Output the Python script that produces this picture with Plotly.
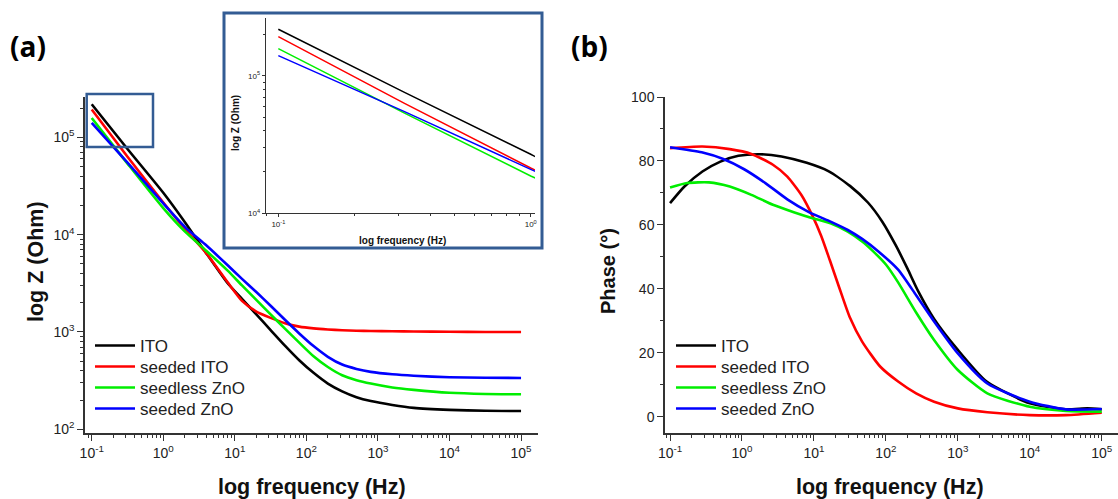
import numpy as np
import plotly.graph_objects as go

names = ["ITO", "seeded ITO", "seedless ZnO", "seeded ZnO"]
colors = ["#000000", "#FF0000", "#00EE00", "#0000FF"]

# ---- (a) impedance: log10 frequency (Hz) and log10 |Z| (Ohm)
imp_log_f = [-1, -0.5, 0, 0.3, 0.6, 0.9, 1.1, 1.3, 1.5, 1.7, 1.9, 2.1, 2.3, 2.5,
             2.7, 2.9, 3.2, 3.5, 4.0, 4.5, 5.0]
logz_ito = [5.34, 4.88, 4.43, 4.13, 3.81, 3.50, 3.34, 3.18, 3.02, 2.86, 2.71, 2.58,
            2.47, 2.39, 2.33, 2.29, 2.25, 2.22, 2.20, 2.19, 2.188]
logz_seeded_ito = [5.286, 4.80, 4.33, 4.06, 3.81, 3.51, 3.32, 3.21, 3.145, 3.09, 3.055,
                   3.037, 3.026, 3.018, 3.013, 3.01, 3.007, 3.005, 3.002, 3.0, 3.0]
logz_seedless_zno = [5.199, 4.73, 4.272, 4.033, 3.835, 3.63, 3.478, 3.33, 3.18, 3.035,
                     2.89, 2.75, 2.64, 2.555, 2.505, 2.47, 2.43, 2.405, 2.375, 2.363, 2.36]
logz_seeded_zno = [5.148, 4.74, 4.32, 4.08, 3.89, 3.685, 3.545, 3.41, 3.27, 3.125, 2.985,
                   2.855, 2.745, 2.665, 2.62, 2.59, 2.565, 2.55, 2.535, 2.53, 2.527]

# ---- (b) phase: log10 frequency (Hz) and phase (deg)
ph_log_f_ito = [-1, -0.8, -0.55, -0.3, -0.05, 0.25, 0.55, 0.9, 1.2, 1.5, 1.75, 1.95,
                2.14, 2.3, 2.45, 2.67, 3.0, 3.4, 4.0, 4.5, 4.8, 5.0]
ph_ito = [66.8, 72.0, 76.7, 79.8, 81.6, 82.1, 81.4, 79.4, 76.8, 72.2, 67.0, 61.0,
          53.5, 46.3, 39.2, 30.6, 20.9, 11.0, 4.2, 2.3, 2.6, 2.3]
ph_log_f_seeded_ito = [-1, -0.55, -0.17, 0.13, 0.43, 0.63, 0.83, 0.98, 1.10, 1.22,
                       1.35, 1.5, 1.67, 1.92, 2.17, 2.42, 2.67, 3.0, 3.41, 4.0, 4.5, 5.0]
ph_seeded_ito = [84.0, 84.5, 83.7, 82.2, 78.8, 75.1, 69.2, 62.8, 56.6, 49.0,
                 40.5, 31.0, 23.5, 15.7, 11.0, 7.3, 4.7, 2.6, 1.4, 0.5, 0.5, 1.25]
ph_log_f_seedless_zno = [-1, -0.76, -0.46, -0.17, 0.13, 0.43, 0.73, 0.98, 1.23, 1.47,
                         1.67, 1.82, 2.0, 2.17, 2.42, 2.67, 3.0, 3.41, 4.0, 4.5, 5.0]
ph_seedless_zno = [71.7, 73.1, 73.3, 72.0, 69.4, 66.3, 63.9, 62.1, 60.5, 57.9,
                   54.8, 51.8, 47.6, 42.0, 32.6, 24.0, 14.6, 7.3, 3.1, 1.8, 1.6]
ph_log_f_seeded_zno = [-1, -0.56, -0.26, 0.03, 0.33, 0.63, 0.93, 1.23, 1.47, 1.67,
                       1.90, 2.17, 2.42, 2.67, 3.0, 3.41, 4.0, 4.5, 5.0]
ph_seeded_zno = [84.3, 82.7, 80.6, 77.4, 73.0, 68.0, 64.0, 61.0, 58.4, 55.6,
                 51.6, 46.0, 38.0, 29.8, 19.8, 10.4, 4.7, 2.3, 2.4]

# tick labels
x_tickvals = [0.1, 1, 10, 100, 1000, 1e4, 1e5]
x_ticktext = ["10<sup>-1</sup>", "10<sup>0</sup>", "10<sup>1</sup>", "10<sup>2</sup>",
              "10<sup>3</sup>", "10<sup>4</sup>", "10<sup>5</sup>"]
z_tickvals = [1e2, 1e3, 1e4, 1e5]
z_ticktext = ["10<sup>2</sup>", "10<sup>3</sup>", "10<sup>4</sup>", "10<sup>5</sup>"]
inset_x_tickvals = [0.1, 1]
inset_x_ticktext = ["10<sup>-1</sup>", "10<sup>0</sup>"]
inset_y_tickvals = [1e4, 1e5]
inset_y_ticktext = ["10<sup>4</sup>", "10<sup>5</sup>"]
phase_tickvals = [0, 20, 40, 60, 80, 100]

minor_log = [k * 10.0 ** e for e in range(-2, 6) for k in range(2, 10)]

FONT = "Liberation Sans"
AX = "#333333"

imp_series = [logz_ito, logz_seeded_ito, logz_seedless_zno, logz_seeded_zno]
ph_f = [ph_log_f_ito, ph_log_f_seeded_ito, ph_log_f_seedless_zno, ph_log_f_seeded_zno]
ph_v = [ph_ito, ph_seeded_ito, ph_seedless_zno, ph_seeded_zno]

W, H = 1118, 499


def px(x):
    return x / W


def py(y):
    return 1 - y / H


legend_rows = [346, 367, 388, 409]
SMOOTH = 0.6

fig = go.Figure()
f_imp = 10.0 ** np.array(imp_log_f)
legend_layout = {}
for i, (n, c, z) in enumerate(zip(names, colors, imp_series)):
    lg = "legend" if i == 0 else f"legend{i + 1}"
    fig.add_trace(go.Scatter(x=f_imp, y=10.0 ** np.array(z), name=n, mode="lines",
                             line=dict(color=c, width=2.6, shape="spline", smoothing=SMOOTH),
                             xaxis="x", yaxis="y", legend=lg))
    legend_layout[lg] = dict(x=px(90), y=py(legend_rows[i]), xanchor="left",
                             yanchor="middle", bgcolor="rgba(0,0,0,0)",
                             font=dict(family=FONT, size=17, color="#222222"),
                             itemwidth=40)
for i, (n, c, fx, p) in enumerate(zip(names, colors, ph_f, ph_v)):
    lg = f"legend{i + 5}"
    fig.add_trace(go.Scatter(x=10.0 ** np.array(fx), y=p, name=n, mode="lines",
                             line=dict(color=c, width=2.6, shape="spline", smoothing=SMOOTH),
                             xaxis="x2", yaxis="y2", legend=lg))
    legend_layout[lg] = dict(x=px(671), y=py(legend_rows[i]), xanchor="left",
                             yanchor="middle", bgcolor="rgba(0,0,0,0)",
                             font=dict(family=FONT, size=17, color="#222222"),
                             itemwidth=40)
for n, c, z in zip(names, colors, imp_series):
    fig.add_trace(go.Scatter(x=f_imp, y=10.0 ** np.array(z), name=n, mode="lines",
                             line=dict(color=c, width=1.5), showlegend=False,
                             xaxis="x3", yaxis="y3"))

common = dict(showline=True, linecolor=AX, linewidth=1.5, ticks="outside",
              tickcolor=AX, tickwidth=1.3, ticklen=6, showgrid=False, zeroline=False,
              tickfont=dict(family=FONT, size=14, color="#222222"), automargin=False)

fig.update_layout(
    width=W, height=H,
    margin=dict(l=0, r=0, t=0, b=0),
    paper_bgcolor="white", plot_bgcolor="rgba(0,0,0,0)",
    font=dict(family=FONT, color="#222222"),
    xaxis=dict(type="log", domain=[px(85), px(538)], range=[-1.094, 5.237], anchor="y",
               tickmode="array", tickvals=x_tickvals, ticktext=x_ticktext,
               minor=dict(tickmode="array", tickvals=minor_log, ticks="outside",
                          ticklen=3, tickcolor=AX, tickwidth=1), **common),
    yaxis=dict(type="log", domain=[py(433), py(97)], range=[1.962, 5.414], anchor="x",
               tickmode="array", tickvals=z_tickvals, ticktext=z_ticktext,
               minor=dict(tickmode="array", tickvals=minor_log, ticks="outside",
                          ticklen=3, tickcolor=AX, tickwidth=1), **common),
    xaxis2=dict(type="log", domain=[px(665), 1.0], range=[-1.07, 5.226], anchor="y2",
                tickmode="array", tickvals=x_tickvals, ticktext=x_ticktext,
                minor=dict(tickmode="array", tickvals=minor_log, ticks="outside",
                           ticklen=3, tickcolor=AX, tickwidth=1), **common),
    yaxis2=dict(domain=[py(433), py(97)], range=[-5.1, 100], anchor="x2",
                tickmode="array", tickvals=phase_tickvals,
                minor=dict(tickmode="array", tickvals=[10, 30, 50, 70, 90], ticks="outside",
                           ticklen=3, tickcolor=AX, tickwidth=1), **common),
    xaxis3=dict(type="log", domain=[px(265.7), px(535)], range=[-1.05, 0.017], anchor="y3",
                tickmode="array", tickvals=inset_x_tickvals, ticktext=inset_x_ticktext,
                showline=True, linecolor=AX, linewidth=1, ticks="outside", tickcolor=AX,
                ticklen=3, tickwidth=1, showgrid=False, zeroline=False, automargin=False,
                tickfont=dict(family=FONT, size=8, color="#222222"),
                minor=dict(tickmode="array", tickvals=minor_log, ticks="outside",
                           ticklen=2, tickcolor=AX, tickwidth=1)),
    yaxis3=dict(type="log", domain=[py(213.3), py(18.3)], range=[4.0, 5.42], anchor="x3",
                tickmode="array", tickvals=inset_y_tickvals, ticktext=inset_y_ticktext,
                showline=True, linecolor=AX, linewidth=1, ticks="outside", tickcolor=AX,
                ticklen=3, tickwidth=1, showgrid=False, zeroline=False, automargin=False,
                tickfont=dict(family=FONT, size=8, color="#222222"),
                minor=dict(tickmode="array", tickvals=minor_log, ticks="outside",
                           ticklen=2, tickcolor=AX, tickwidth=1)),
    showlegend=True,
    **legend_layout,
)

BOX = "#335C94"
fig.add_shape(type="rect", xref="paper", yref="paper",
              x0=px(86.7), x1=px(153), y0=py(147), y1=py(94),
              line=dict(color=BOX, width=2.5), fillcolor="rgba(0,0,0,0)")
fig.add_shape(type="rect", xref="paper", yref="paper",
              x0=px(224), x1=px(542), y0=py(248), y1=py(13),
              line=dict(color=BOX, width=3), fillcolor="rgba(0,0,0,0)")

title_font = dict(family=FONT, size=21.5, color="#111111")
ann = [
    dict(text="<b>(a)</b>", x=px(8), y=py(46), xanchor="left", yanchor="middle",
         font=dict(family="Open Sans", size=28, color="#000000")),
    dict(text="<b>(b)</b>", x=px(569), y=py(46), xanchor="left", yanchor="middle",
         font=dict(family="Open Sans", size=28, color="#000000")),
    dict(text="<b>log frequency (Hz)</b>", x=px(312), y=py(487), xanchor="center",
         yanchor="middle", font=title_font),
    dict(text="<b>log frequency (Hz)</b>", x=px(890), y=py(487), xanchor="center",
         yanchor="middle", font=title_font),
    dict(text="<b>log Z (Ohm)</b>", x=px(36), y=py(262), xanchor="center",
         yanchor="middle", textangle=-90, font=title_font),
    dict(text="<b>Phase (°)</b>", x=px(608), y=py(271), xanchor="center",
         yanchor="middle", textangle=-90, font=dict(family=FONT, size=20, color="#111111")),
    dict(text="<b>log frequency (Hz)</b>", x=px(402), y=py(240), xanchor="center",
         yanchor="middle", font=dict(family=FONT, size=10, color="#111111")),
    dict(text="<b>log Z (Ohm)</b>", x=px(235), y=py(123), xanchor="center",
         yanchor="middle", textangle=-90, font=dict(family=FONT, size=10, color="#111111")),
]
for a in ann:
    fig.add_annotation(xref="paper", yref="paper", showarrow=False, **a)

fig.write_html("out.html", config={"displayModeBar": False},
               post_script="document.body.style.margin='0';document.body.style.padding='0';")
